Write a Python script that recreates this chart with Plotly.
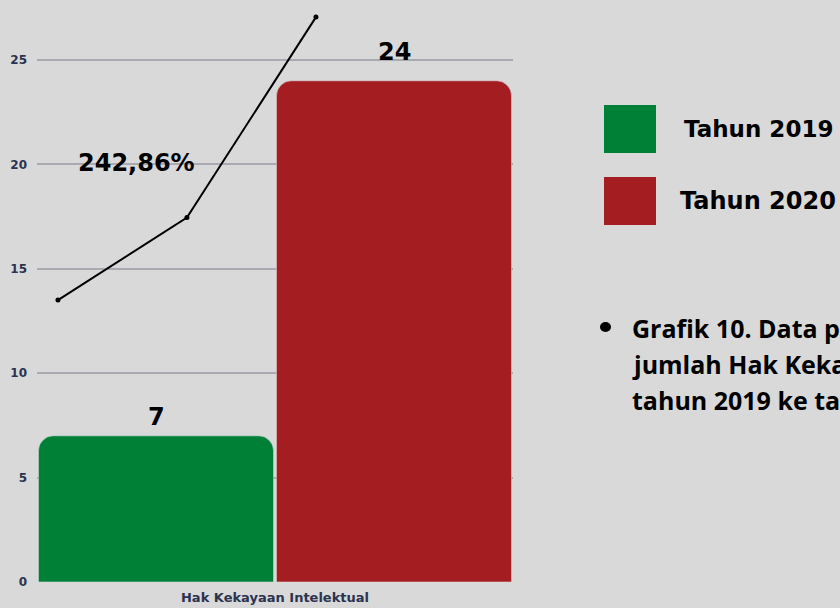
import plotly.graph_objects as go

# Data
kategori = ["Hak Kekayaan Intelektual"]
tahun_2019 = [7]
tahun_2020 = [24]
garis_x = [0.044, 0.315, 0.586]
garis_y = [13.5, 17.45, 27.05]
label_persen = "242,86%"
y_ticks = [0, 5, 10, 15, 20, 25]
keterangan = [
    "Grafik 10. Data persentase kenaikan",
    "jumlah Hak Kekayaan Intelektual dari",
    "tahun 2019 ke tahun 2020",
]

BG = "#d9d9d9"
HIJAU = "#007f37"
MERAH = "#a41e21"
NAVY = "#2b3350"
JUDUL_FONT = "DejaVu Sans"

fig = go.Figure()

fig.add_trace(go.Bar(
    x=kategori, y=tahun_2019, name="Tahun 2019",
    marker=dict(color=HIJAU, cornerradius=15),
))
fig.add_trace(go.Bar(
    x=kategori, y=tahun_2020, name="Tahun 2020",
    marker=dict(color=MERAH, cornerradius=15),
))

# garis kenaikan
fig.add_trace(go.Scatter(
    x=garis_x, y=garis_y, xaxis="x2", mode="lines+markers",
    line=dict(color="black", width=2), marker=dict(color="black", size=5),
    showlegend=False, cliponaxis=False,
))

fig.update_layout(
    width=840, height=608,
    paper_bgcolor=BG, plot_bgcolor=BG,
    margin=dict(l=37, r=327, t=10, b=26),
    barmode="group", bargap=0, bargroupgap=0.012,
    showlegend=False,
    xaxis=dict(
        showgrid=False, zeroline=False, showline=False, automargin=False,
        tickfont=dict(family=JUDUL_FONT, size=13, color=NAVY, weight="bold"),
        ticklen=0, ticklabelstandoff=6,
    ),
    xaxis2=dict(overlaying="x", range=[0, 1], visible=False),
    yaxis=dict(
        range=[0, 27.39], tickvals=y_ticks, automargin=False,
        showgrid=True, gridcolor="#a9a9b0", gridwidth=1.5,
        zeroline=False, showline=False,
        tickfont=dict(family=JUDUL_FONT, size=12, color=NAVY, weight="bold"),
        ticklabelstandoff=9,
    ),
)

# label nilai batang
for xp, nilai, geser in [(0.25, tahun_2019[0], 3), (0.75, tahun_2020[0], 13)]:
    fig.add_annotation(
        x=xp, y=nilai, xref="x2", yref="y", text=str(nilai), showarrow=False,
        xanchor="center", yanchor="bottom", yshift=geser,
        font=dict(family=JUDUL_FONT, size=24, color="black", weight="bold"),
    )

# label persentase
fig.add_annotation(
    x=0.21, y=20.05, xref="paper", yref="y", text=label_persen, showarrow=False,
    xanchor="center", yanchor="middle",
    font=dict(family=JUDUL_FONT, size=24, color="black", weight="bold"),
)

# legenda manual
legenda = [(105, HIJAU, "Tahun 2019", 682, 23), (177, MERAH, "Tahun 2020", 678, 24)]
for y0, warna, teks, tx, ukuran in legenda:
    fig.add_shape(
        type="rect", xref="paper", yref="paper",
        x0=(604 - 37) / 476, x1=(656 - 37) / 476,
        y0=(582 - y0 - 48) / 572, y1=(582 - y0) / 572,
        fillcolor=warna, line=dict(width=0),
    )
    fig.add_annotation(
        x=(tx - 37) / 476, y=(582 - y0 - 24) / 572, xref="paper", yref="paper",
        text=teks, showarrow=False, xanchor="left", yanchor="middle",
        font=dict(family=JUDUL_FONT, size=ukuran, color="black", weight="bold"),
    )

# keterangan
fig.add_shape(
    type="circle", xref="paper", yref="paper",
    x0=(600 - 37) / 476, x1=(611 - 37) / 476,
    y0=(582 - 332) / 572, y1=(582 - 322) / 572,
    fillcolor="black", line=dict(width=0),
)
for i, baris in enumerate(keterangan):
    fig.add_annotation(
        x=(630 - 37) / 476, y=(582 - (328 + 36 * i)) / 572, xref="paper", yref="paper",
        text=baris, showarrow=False, xanchor="left", yanchor="middle", align="left",
        font=dict(family="Open Sans", size=25, color="black", weight="bold"),
    )

fig.write_html(
    "out.html",
    config={"displayModeBar": False},
    post_script="document.body.style.margin='0';",
)
